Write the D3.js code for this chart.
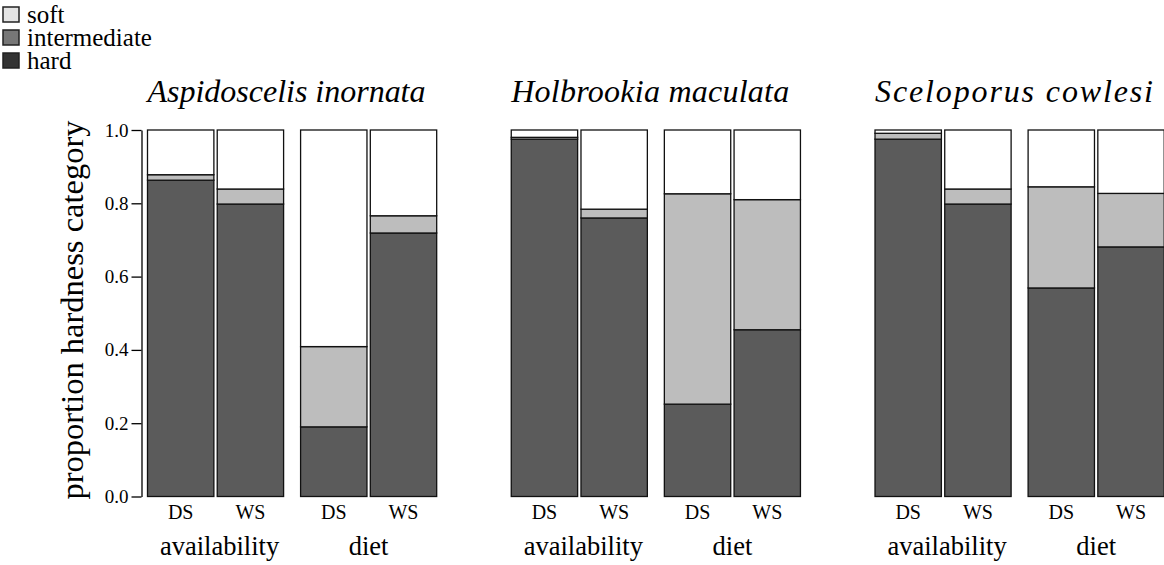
<!DOCTYPE html>
<html>
<head>
<meta charset="utf-8">
<script src="https://cdn.jsdelivr.net/npm/d3@7"></script>
<style>
  html, body { margin: 0; padding: 0; background: #fff; }
  svg { display: block; }
  svg text { font-family: "Liberation Serif", "Times New Roman", serif; }
</style>
</head>
<body>
<svg id="chart" width="1164" height="565"></svg>
<script>
// Species panels, source groups and seasons
const species = ["Aspidoscelis inornata", "Holbrookia maculata", "Sceloporus cowlesi"];
const sources = ["availability", "diet"];
const seasons = ["DS", "WS"];
const categories = ["hard", "intermediate", "soft"];
const yTicks = [0, 0.2, 0.4, 0.6, 0.8, 1.0];

// Proportion of hard prey per bar: [availability DS, availability WS, diet DS, diet WS]
const hardValues = [
  [0.863, 0.798, 0.190, 0.719],
  [0.975, 0.760, 0.252, 0.455],
  [0.975, 0.798, 0.569, 0.681]
];
// Proportion of intermediate prey per bar
const intermediateValues = [
  [0.015, 0.041, 0.219, 0.047],
  [0.005, 0.024, 0.574, 0.355],
  [0.016, 0.041, 0.276, 0.146]
];
// Proportion of soft prey per bar
const softValues = [
  [0.122, 0.161, 0.591, 0.234],
  [0.020, 0.216, 0.174, 0.190],
  [0.009, 0.161, 0.155, 0.173]
];

const SERIF = "Liberation Serif, Times New Roman, serif";
const barFill = { hard: "#5b5b5b", intermediate: "#bdbdbd", soft: "#ffffff" };
const legendFill = { soft: "#e4e4e4", intermediate: "#777777", hard: "#333333" };

const svg = d3.select("#chart").attr("font-family", SERIF);

// Build one row per bar
const rows = [];
species.forEach((sp, i) => {
  sources.forEach((src, j) => {
    seasons.forEach((se, k) => {
      const idx = j * 2 + k;
      rows.push({
        species: sp, source: src, season: se,
        hard: hardValues[i][idx],
        intermediate: intermediateValues[i][idx],
        soft: softValues[i][idx]
      });
    });
  });
});

const layers = d3.stack().keys(categories)(rows);

const y = d3.scaleLinear().domain([0, 1]).range([496.5, 130]);

const xSpecies = d3.scaleBand().domain(species).range([147.5, 1164.2]).paddingInner(0.205);
const xSource = d3.scaleBand().domain(sources).range([0, xSpecies.bandwidth()]).paddingInner(0.111);
const xSeason = d3.scaleBand().domain(seasons).range([0, xSource.bandwidth()]).paddingInner(0.048);

const barX = d => xSpecies(d.species) + xSource(d.source) + xSeason(d.season);

// Stacked bars
const barG = svg.append("g");
layers.forEach(layer => {
  barG.append("g")
    .selectAll("rect")
    .data(layer)
    .join("rect")
      .attr("x", d => barX(d.data))
      .attr("width", xSeason.bandwidth())
      .attr("y", d => y(d[1]))
      .attr("height", d => Math.max(0, y(d[0]) - y(d[1])))
      .attr("fill", barFill[layer.key])
      .attr("stroke", "#111")
      .attr("stroke-width", 1.3);
});

// Y axis on the first panel
const yAxis = d3.axisLeft(y).tickValues(yTicks).tickFormat(d3.format(".1f")).tickSize(10).tickSizeOuter(0);
const axG = svg.append("g").attr("transform", "translate(141.5,0)").call(yAxis)
  .attr("font-family", SERIF);
axG.select(".domain").attr("stroke", "#000").attr("stroke-width", 1.3);
axG.selectAll(".tick line").attr("stroke", "#000").attr("stroke-width", 1.3);
axG.selectAll(".tick text")
  .attr("font-family", SERIF)
  .attr("font-size", 19).attr("fill", "#000").attr("x", -13);

svg.append("text")
  .attr("transform", `translate(83,310) rotate(-90)`)
  .attr("text-anchor", "middle")
  .attr("font-family", SERIF)
  .attr("font-size", 32.5)
  .text("proportion hardness category");

// Panel titles, season and source labels
species.forEach(sp => {
  const px = xSpecies(sp);
  svg.append("text")
    .attr("x", px)
    .attr("y", 102)
    .attr("text-anchor", "start")
    .attr("font-family", SERIF)
    .attr("font-style", "italic")
    .attr("font-size", 32)
    .attr("textLength", 278)
    .attr("lengthAdjust", "spacing")
    .text(sp);
  sources.forEach(src => {
    const gx = px + xSource(src);
    svg.append("text")
      .attr("x", gx + xSource.bandwidth() / 2 + (src === "availability" ? 4 : 0))
      .attr("y", 555)
      .attr("text-anchor", "middle")
      .attr("font-family", SERIF)
      .attr("font-size", 26.5)
      .text(src);
    seasons.forEach(se => {
      svg.append("text")
        .attr("x", gx + xSeason(se) + xSeason.bandwidth() / 2)
        .attr("y", 519)
        .attr("text-anchor", "middle")
        .attr("font-family", SERIF)
        .attr("font-size", 20)
        .text(se);
    });
  });
});

// Legend
const legendKeys = ["soft", "intermediate", "hard"];
const lg = svg.append("g").selectAll("g").data(legendKeys).join("g")
  .attr("transform", (d, i) => `translate(3,${7 + i * 23})`);
lg.append("rect")
  .attr("width", 16).attr("height", 15)
  .attr("fill", d => legendFill[d])
  .attr("stroke", "#222").attr("stroke-width", 1.5);
lg.append("text")
  .attr("x", 24).attr("y", 16)
  .attr("font-family", SERIF)
  .attr("font-size", 25)
  .text(d => d);
</script>
</body>
</html>
